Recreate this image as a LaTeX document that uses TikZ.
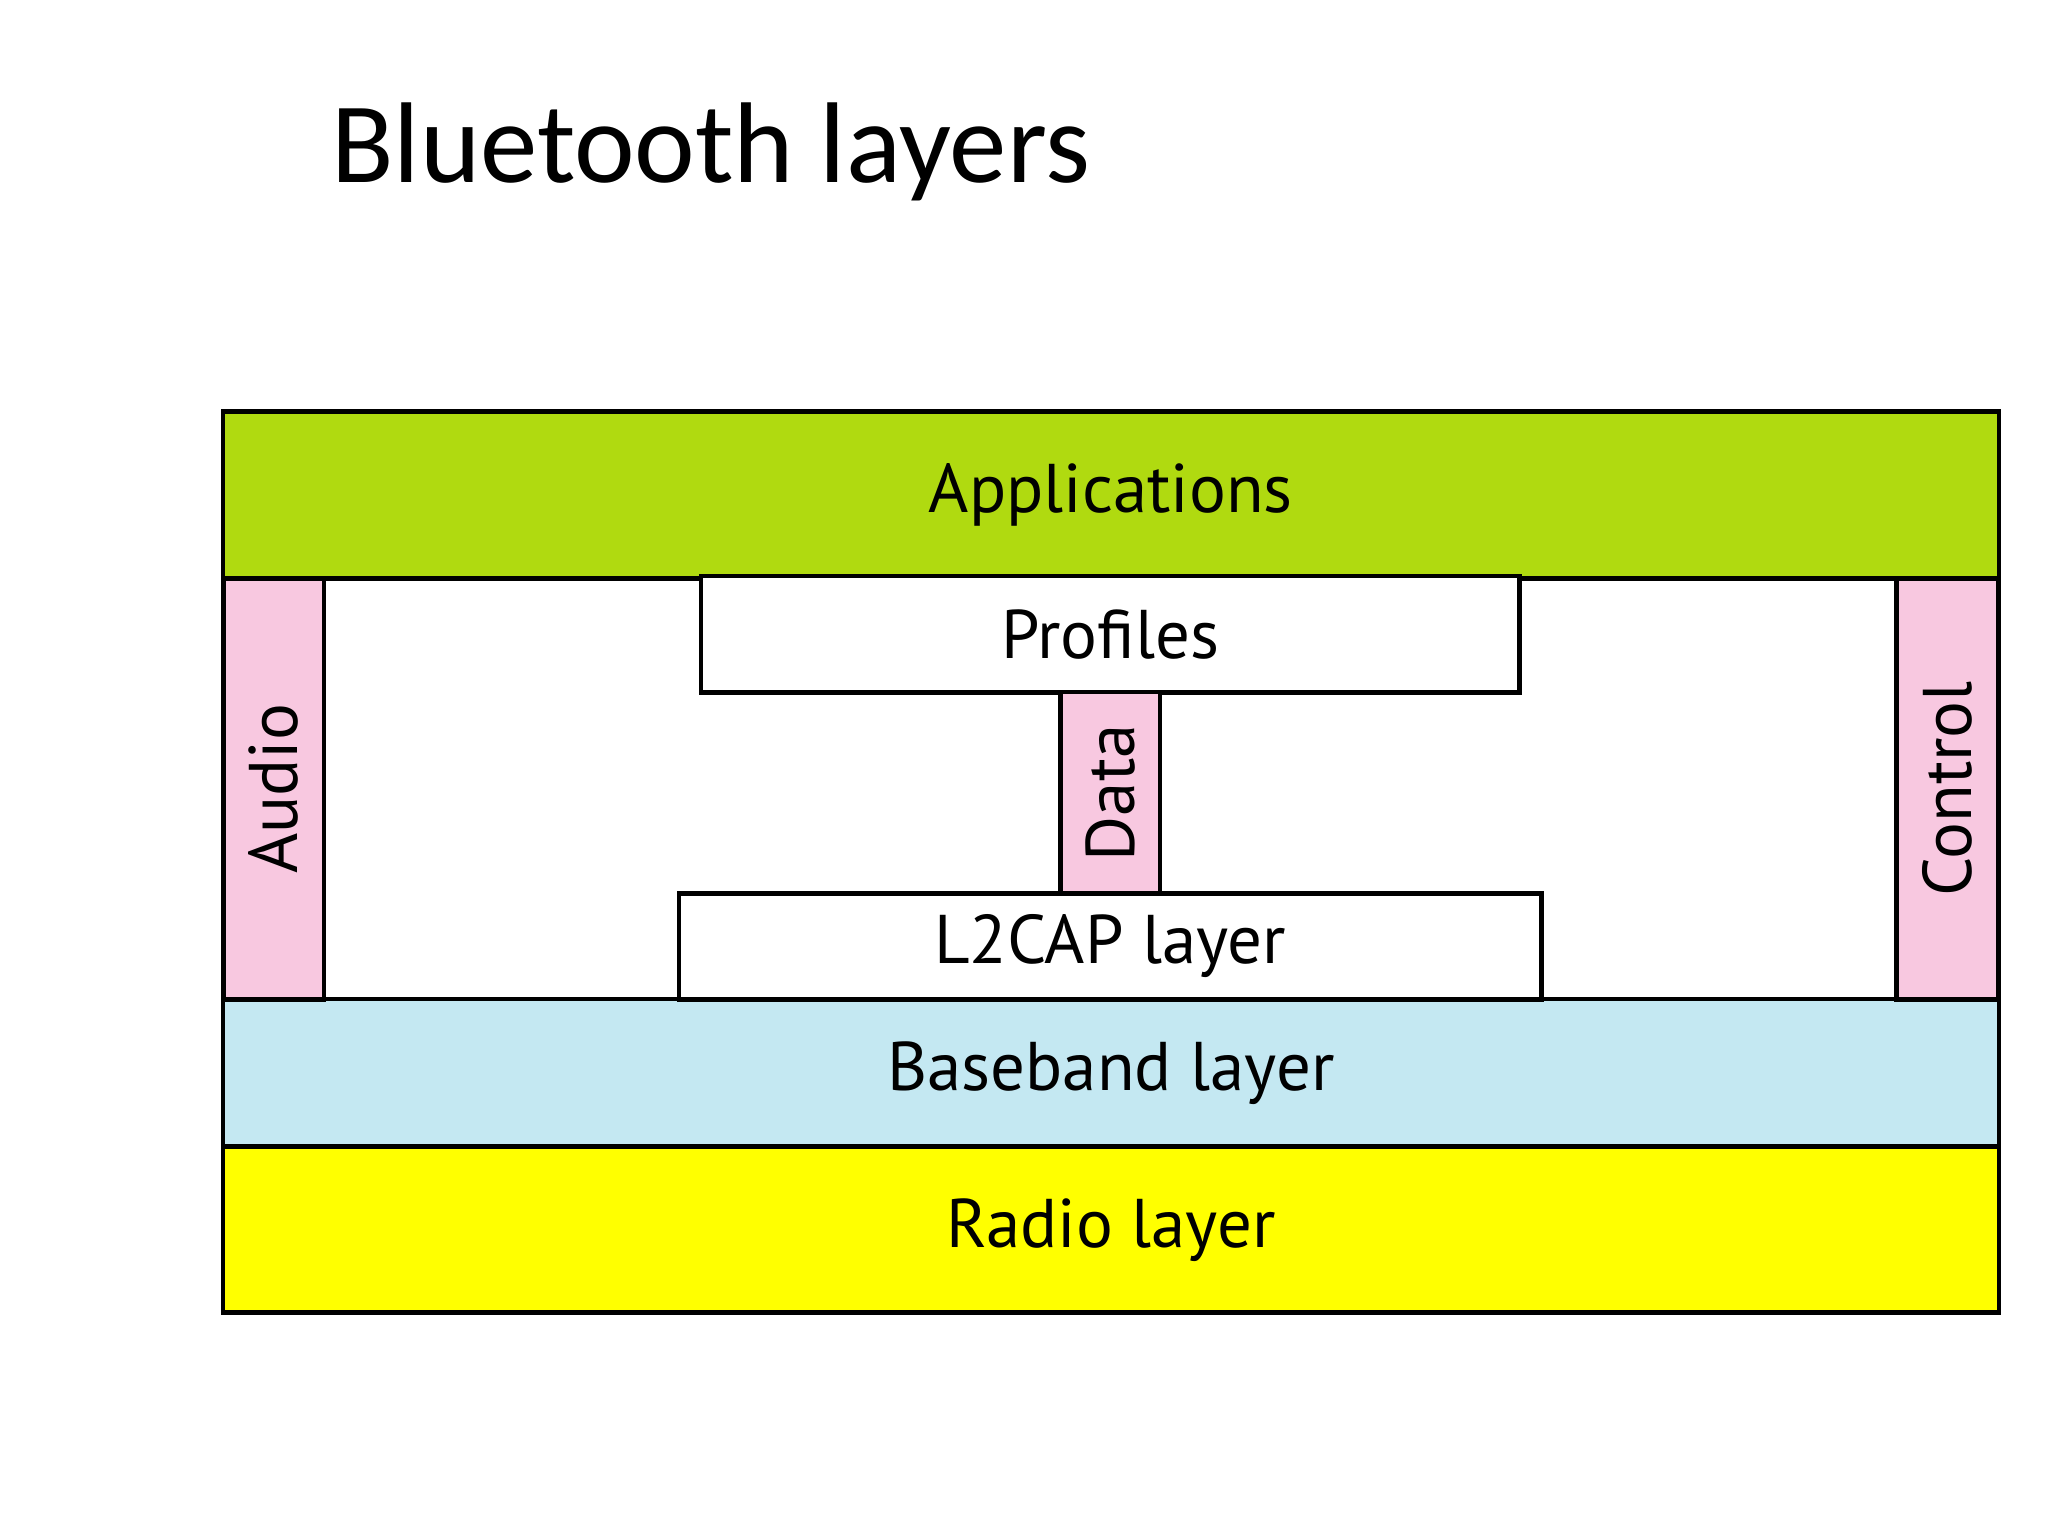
\documentclass[tikz,border=0pt]{standalone}
\usepackage{fontspec}
\setmainfont{PT Sans}
\newfontfamily\titlefont{Carlito}
\definecolor{appgreen}{HTML}{B0DA10}
\definecolor{sidepink}{HTML}{F8C8E0}
\definecolor{baseblue}{HTML}{C4E8F2}
\definecolor{radioyel}{HTML}{FFFF00}
\begin{document}
\begin{tikzpicture}[x=0.01cm,y=-0.01cm,
  layer/.style={draw=black,line width=1pt,inner sep=0pt,outer sep=0pt,font=\fontsize{15pt}{18pt}\selectfont},
  vlayer/.style={layer,rotate=90}]
\useasboundingbox (0,0) rectangle (1568,1176);
\node[anchor=base west,inner sep=0pt,font=\titlefont\fontsize{25pt}{28pt}\selectfont] (title) at (253,140) {Bluetooth layers};
% frame
\node[layer,minimum width=13.59cm,minimum height=6.90cm,fill=white] (frame) at (850.5,660) {};
% layers
\node[layer,fill=appgreen,minimum width=13.59cm,minimum height=1.28cm] (apps) at (850.5,379) {Applications};
\node[layer,fill=baseblue,minimum width=13.59cm,minimum height=1.13cm] (base) at (850.5,821.5) {Baseband layer};
\node[layer,fill=radioyel,minimum width=13.59cm,minimum height=1.27cm] (radio) at (850.5,941.5) {Radio layer};
\node[vlayer,fill=sidepink,minimum width=3.22cm,minimum height=0.77cm] (audio) at (209.5,604) {Audio};
\node[vlayer,fill=sidepink,minimum width=3.22cm,minimum height=0.78cm] (control) at (1491,604) {Control};
\node[layer,fill=white,minimum width=6.26cm,minimum height=0.89cm] (profiles) at (850,485.5) {Profiles};
\node[vlayer,fill=sidepink,minimum width=1.54cm,minimum height=0.76cm] (data) at (850,607) {Data};
\node[layer,fill=white,minimum width=6.60cm,minimum height=0.81cm] (l2cap) at (850,724.5) {L2CAP layer};
\end{tikzpicture}
\end{document}
